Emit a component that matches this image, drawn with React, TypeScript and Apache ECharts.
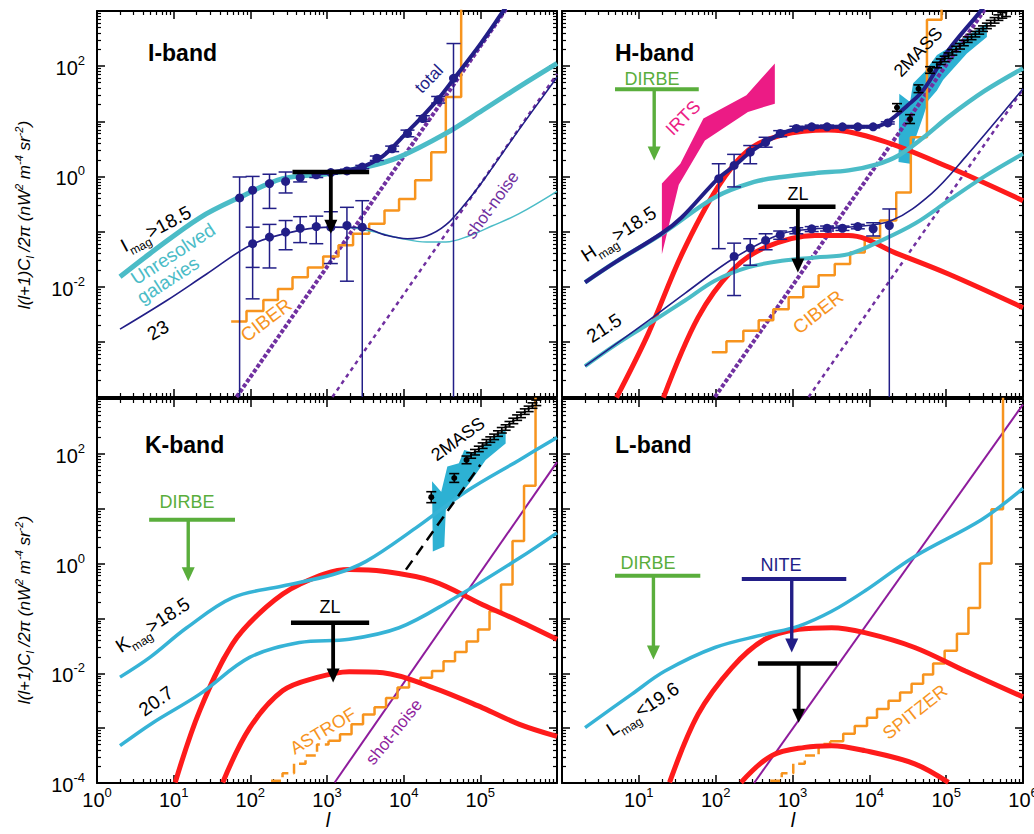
import React, { useEffect, useRef } from "react";
import * as echarts from "echarts";

const FONT = "'Liberation Sans', Arial, Helvetica, sans-serif";

const NAVY = "#221e87";
const CYAN_IH = "#4bbcc7";
const CYAN_KL = "#36b3d6";
const RED = "#fe1b1b";
const PURPLE_D = "#7030a0";
const PURPLE_S = "#8e1c9c";
const ORANGE = "#f7941e";
const GREEN = "#5aae3c";
const PINK = "#ec1b85";
const TMASS = "#2db1d3";

// All values below are [log10(l), log10(value)]
// ---------------- I-band ----------------
const iGalBright = [[0.3,-1.82],[0.69,-1.4],[1.34,-0.75],[1.86,-0.38],[2.42,-0.04],[3.01,0.05],[3.51,0.17],[3.94,0.35],[4.55,0.78],[5.03,1.2],[5.5,1.62],[6.0,2.05]];
const iTotalBright = [[2.8,0.03],[3.05,0.08],[3.3,0.12],[3.51,0.2],[3.7,0.34],[3.85,0.52],[4.03,0.78],[4.24,1.08],[4.46,1.42],[4.66,1.78],[5.0,2.4],[5.3,3.0],[5.45,3.3]];
const iTotalFaint = [[0.3,-2.77],[0.91,-2.25],[1.43,-1.77],[2.04,-1.22],[2.64,-0.98],[3.07,-0.92],[3.47,-0.93],[3.75,-1.06],[4.05,-1.13],[4.3,-1.08],[4.55,-0.88],[4.8,-0.5],[5.05,-0.05],[5.5,0.84],[6.0,1.8]];
const iGalFaint = [[3.3,-0.92],[3.6,-1.0],[3.95,-1.12],[4.3,-1.19],[4.55,-1.19],[4.85,-1.08],[5.15,-0.9],[5.5,-0.68],[6.0,-0.27]];
const iShotBright = [[1.82,-4.0],[5.5,3.36]];
const iShotFaint = [[3.07,-4.0],[6.0,1.86]];
const iCiber = [[1.75,-2.63],[1.95,-2.44],[2.17,-2.24],[2.36,-2.04],[2.55,-1.83],[2.75,-1.65],[2.95,-1.45],[3.15,-1.25],[3.34,-1.04],[3.55,-0.86],[3.75,-0.62],[3.94,-0.41],[4.15,-0.07],[4.36,0.44],[4.55,1.44],[4.75,4]];
// [log l, log v, log low, log high]
const iUpper = [[1.86,-0.39,-4,-0.01],[2.03,-0.25,-1.65,0.0],[2.25,-0.13,-0.58,0.04],[2.46,-0.09,-0.3,0.08],[2.65,-0.02,-0.1,0.06],[2.86,0.03,-0.02,0.08],[3.05,0.07,0.04,0.1],[3.26,0.1,0.07,0.13],[3.46,0.17,0.14,0.2],[3.65,0.33,0.29,0.37],[3.85,0.5,0.45,0.55],[4.05,0.78,0.72,0.84],[4.25,1.05,1.0,1.1],[4.45,1.39,1.33,1.45],[4.65,1.78,-4,2.41]];
const iLower = [[2.03,-1.22,-2.22,-0.92],[2.25,-1.1,-1.66,-0.87],[2.46,-1.01,-1.33,-0.8],[2.65,-0.94,-1.2,-0.73],[2.86,-0.91,-1.22,-0.72],[3.05,-0.92,-1.58,-0.64],[3.26,-0.89,-1.9,-0.56],[3.46,-0.92,-4,-0.44]];
const iZLBar = [[2.55,0.08],[3.55,0.08]];
const iZLArrow = [[3.05,0.08],[3.05,-1.04]];

// ---------------- H-band ----------------
const hGalBright = [[0.3,-1.92],[0.7,-1.55],[1.3,-1.04],[1.99,-0.38],[2.5,-0.1],[2.86,-0.01],[3.3,0.06],[3.73,0.11],[4.1,0.22],[4.38,0.38],[4.7,0.7],[5.03,1.08],[5.5,1.55],[6.0,1.96]];
const hGalFaint = [[0.3,-3.44],[0.7,-3.05],[1.12,-2.68],[1.6,-2.25],[1.99,-1.89],[2.42,-1.65],[2.86,-1.53],[3.3,-1.47],[3.73,-1.41],[4.16,-1.16],[4.6,-0.85],[5.03,-0.44],[5.5,0.0],[6.0,0.41]];
const hTotBright = [[0.3,-1.92],[0.7,-1.55],[1.3,-1.03],[1.56,-0.74],[2.03,-0.04],[2.25,0.2],[2.45,0.44],[2.65,0.62],[2.86,0.78],[3.08,0.87],[3.29,0.9],[3.73,0.9],[4.05,0.9],[4.24,0.99],[4.5,1.29],[4.7,1.56],[5.03,2.29],[5.46,3.02],[5.6,3.3]];
const hTotFaint = [[0.3,-3.44],[1.12,-2.62],[1.6,-2.12],[2.25,-1.47],[2.86,-1.04],[3.3,-0.95],[3.73,-0.92],[4.29,-0.8],[4.81,-0.31],[5.25,0.35],[6.0,1.59]];
const hRedBright = [[0.71,-4.01],[1.12,-2.86],[1.56,-1.41],[2.03,-0.19],[2.42,0.47],[2.86,0.75],[3.47,0.84],[4.16,0.65],[5.03,0.17],[6.0,-0.44]];
const hRedFaint = [[1.32,-4.01],[1.77,-2.56],[2.21,-1.71],[2.64,-1.29],[3.29,-1.07],[3.73,-1.07],[4.38,-1.41],[5.03,-1.77],[6.0,-2.38]];
const hShotBright = [[1.99,-4.0],[5.55,3.12]];
const hShotFaint = [[3.21,-4.0],[6.0,1.58]];
const hCiber = [[1.95,-3.19],[2.14,-2.99],[2.36,-2.8],[2.56,-2.61],[2.75,-2.41],[2.95,-2.19],[3.14,-2.0],[3.34,-1.79],[3.55,-1.59],[3.75,-1.38],[3.94,-1.11],[4.14,-0.8],[4.35,-0.29],[4.54,0.71],[4.75,2.84],[4.94,4]];
const hUpper = [[2.04,-0.04,-1.31,0.23],[2.24,0.2,-0.19,0.4],[2.45,0.44,0.23,0.56],[2.65,0.62,0.53,0.71],[2.84,0.78,0.72,0.83],[3.05,0.87,0.83,0.91],[3.25,0.9,0.87,0.93],[3.45,0.9,0.87,0.93],[3.65,0.9,0.88,0.92],[3.85,0.9,0.88,0.92],[4.05,0.9,0.88,0.92],[4.24,0.97,0.95,0.99]];
const hLower = [[2.24,-1.45,-2.16,-1.21],[2.45,-1.3,-1.61,-1.13],[2.65,-1.16,-1.33,-1.04],[2.84,-1.06,-1.14,-0.99],[3.05,-0.98,-1.04,-0.93],[3.25,-0.95,-1.0,-0.91],[3.45,-0.94,-0.99,-0.9],[3.65,-0.94,-0.98,-0.9],[3.85,-0.91,-0.95,-0.87],[4.05,-0.95,-1.08,-0.84],[4.26,-0.89,-4,-0.59]];
const hIrts = [[1.30,-0.13],[1.54,0.23],[1.84,1.05],[2.40,1.47],[2.77,2.05],[2.77,1.32],[2.42,1.17],[1.86,0.65],[1.52,-0.15],[1.30,-1.41]];
const h2massBand = [[4.38,0.26],[4.39,1.5],[4.53,1.35],[4.57,1.69],[4.72,1.9],[4.88,2.2],[5.09,2.38],[5.35,2.62],[5.53,2.78],[5.53,2.53],[5.27,2.23],[4.96,1.75],[4.88,1.56],[4.77,1.38],[4.70,1.08],[4.59,0.65],[4.53,0.23]];
const h2massPts = [[4.36,1.25,1.18,1.32],[4.53,1.04,0.96,1.12],[4.64,1.59,1.52,1.66],[4.79,1.93,1.87,1.99],[4.88,2.02,1.97,2.07],[4.93,2.08,2.03,2.13],[4.98,2.13,2.08,2.18],[5.03,2.19,2.14,2.24],[5.08,2.25,2.2,2.3],[5.13,2.31,2.26,2.36],[5.18,2.36,2.31,2.41],[5.23,2.42,2.37,2.47],[5.28,2.48,2.43,2.53],[5.33,2.53,2.48,2.58],[5.38,2.58,2.53,2.63],[5.43,2.63,2.58,2.68],[5.48,2.68,2.63,2.73],[5.53,2.73,2.68,2.78],[5.58,2.78,2.73,2.83],[5.63,2.83,2.78,2.88],[5.68,2.88,2.83,2.93],[5.73,2.92,2.87,2.97],[5.78,2.95,2.9,3.0]];
const hDirbeBar = [[0.69,1.58],[1.78,1.58]];
const hDirbeArrow = [[1.2,1.58],[1.2,0.29]];
const hZLBar = [[2.55,-0.55],[3.56,-0.55]];
const hZLArrow = [[3.07,-0.55],[3.07,-1.74]];

// ---------------- K-band ----------------
const kGalBright = [[0.3,-2.07],[0.69,-1.71],[1.17,-1.17],[1.77,-0.62],[2.42,-0.41],[3.08,-0.2],[3.51,0.04],[4.16,0.65],[4.81,1.31],[5.51,1.89],[6.0,2.3]];
const kGalFaint = [[0.3,-3.32],[0.73,-2.9],[1.34,-2.38],[1.99,-1.71],[2.64,-1.44],[3.29,-1.38],[3.94,-1.17],[4.59,-0.69],[5.51,0.1],[6.0,0.56]];
const kRedBright = [[1.02,-3.99],[1.34,-2.68],[1.77,-1.46],[2.21,-0.79],[2.64,-0.38],[3.29,-0.11],[3.73,-0.14],[4.38,-0.32],[5.03,-0.75],[5.51,-1.05],[6.0,-1.38]];
const kRedFaint = [[1.64,-3.99],[1.99,-3.0],[2.42,-2.32],[2.86,-2.08],[3.29,-1.97],[3.73,-1.99],[4.38,-2.26],[5.03,-2.63],[5.51,-2.93],[6.0,-3.15]];
const kShot = [[3.1,-3.99],[6.0,1.85]];
const kDashed = [[4.03,-0.11],[5.0,1.8]];
const kAstrofDashed = [[2.27,-3.96],[2.42,-3.82],[2.57,-3.65],[2.72,-3.5],[2.87,-3.3],[3.02,-3.23]];
const kAstrof = [[3.02,-3.23],[3.17,-3.11],[3.32,-2.93],[3.47,-2.75],[3.62,-2.62],[3.77,-2.45],[3.92,-2.26],[4.07,-2.14],[4.22,-2.08],[4.37,-1.96],[4.52,-1.78],[4.67,-1.61],[4.82,-1.42],[4.97,-1.2],[5.12,-0.87],[5.27,-0.38],[5.42,0.41],[5.57,1.42],[5.72,4]];
const k2massBand = [[4.37,1.5],[4.49,1.31],[4.57,1.77],[4.72,1.83],[4.79,2.07],[4.94,2.01],[5.11,2.25],[5.33,2.44],[5.33,2.19],[5.07,1.89],[4.86,1.47],[4.68,1.16],[4.55,0.98],[4.53,0.31],[4.38,0.22]];
const k2massPts = [[4.36,1.21,1.11,1.31],[4.66,1.56,1.48,1.64],[4.82,1.89,1.82,1.96],[4.88,1.97,1.92,2.02],[4.93,2.03,1.98,2.08],[4.98,2.09,2.04,2.14],[5.03,2.15,2.1,2.2],[5.08,2.21,2.16,2.26],[5.13,2.26,2.21,2.31],[5.18,2.31,2.26,2.36],[5.23,2.37,2.32,2.42],[5.28,2.43,2.38,2.48],[5.33,2.48,2.43,2.53],[5.38,2.54,2.49,2.59],[5.43,2.6,2.55,2.65],[5.48,2.66,2.61,2.71],[5.53,2.71,2.66,2.76],[5.58,2.77,2.72,2.82],[5.63,2.82,2.77,2.87],[5.68,2.88,2.83,2.93],[5.73,2.93,2.88,2.98]];
const kDirbeBar = [[0.68,0.8],[1.8,0.8]];
const kDirbeArrow = [[1.19,0.8],[1.19,-0.32]];
const kZLBar = [[2.53,-1.08],[3.55,-1.08]];
const kZLArrow = [[3.08,-1.08],[3.08,-2.17]];

// ---------------- L-band ----------------
const lGal = [[0.3,-2.99],[0.91,-2.38],[1.34,-1.96],[1.99,-1.53],[2.64,-1.29],[3.08,-1.14],[3.51,-0.87],[3.94,-0.5],[4.59,0.13],[5.46,0.8],[6.0,1.37]];
const lRedBright = [[1.4,-3.99],[1.77,-2.75],[2.21,-1.9],[2.64,-1.38],[3.08,-1.2],[3.51,-1.17],[3.94,-1.26],[4.59,-1.53],[5.25,-1.96],[6.0,-2.43]];
const lRedFaint = [[2.33,-3.99],[2.73,-3.5],[3.16,-3.35],[3.51,-3.32],[3.94,-3.41],[4.59,-3.65],[5.03,-3.99]];
const lShot = [[2.5,-4.0],[6.0,2.9]];
const lSpitzerDashed = [[2.71,-3.96],[2.86,-3.82],[3.01,-3.65],[3.16,-3.5],[3.34,-3.29],[3.49,-3.24]];
const lSpitzer = [[3.49,-3.24],[3.66,-3.1],[3.81,-2.96],[3.97,-2.81],[4.10,-2.65],[4.25,-2.5],[4.40,-2.35],[4.55,-2.19],[4.70,-2.02],[4.83,-1.82],[4.98,-1.59],[5.14,-1.28],[5.29,-0.81],[5.44,0.0],[5.59,0.99],[5.74,4]];
const lDirbeBar = [[0.69,-0.22],[1.8,-0.22]];
const lDirbeArrow = [[1.19,-0.22],[1.19,-1.75]];
const lNiteBar = [[2.34,-0.28],[3.7,-0.28]];
const lNiteArrow = [[2.99,-0.28],[2.99,-1.62]];
const lZLBar = [[2.55,-1.82],[3.58,-1.82]];
const lZLArrow = [[3.08,-1.82],[3.08,-2.9]];

const toReal = (pts: number[][]) => pts.map((p) => p.map((v) => Math.pow(10, v)));

const GRIDS = [
  { left: 97, top: 11, width: 460, height: 386 },
  { left: 562, top: 11, width: 461, height: 386 },
  { left: 97, top: 399, width: 460, height: 384 },
  { left: 562, top: 399, width: 461, height: 384 },
];

const AXIS_RICH = {
  b: { fontSize: 20, fontFamily: FONT, color: "#000", lineHeight: 24, verticalAlign: "bottom" },
  s: { fontSize: 13, fontFamily: FONT, color: "#000", lineHeight: 14, verticalAlign: "top" },
};

function axisCommon() {
  return {
    axisLine: { show: true, onZero: false, lineStyle: { color: "#000", width: 2 } },
    axisTick: { show: true, inside: true, length: 8, lineStyle: { color: "#000", width: 1.5 } },
    minorTick: { show: true, splitNumber: 9, length: 4, lineStyle: { color: "#000", width: 1.2 } },
    splitLine: { show: false },
    minorSplitLine: { show: false },
  };
}

function makeX(g: number, position: string, show: boolean) {
  return {
    type: "log", logBase: 10, gridIndex: g, position, min: 1, max: 1e6, splitNumber: 6,
    ...axisCommon(),
    axisLabel: {
      show, margin: 3, showMinLabel: true, showMaxLabel: true, hideOverlap: false,
      formatter: (v: number) => {
        const e = Math.round(Math.log10(v));
        if (g === 2 && e > 5) return "";
        if (g === 3 && e < 1) return "";
        return "{b|10}{s|" + e + "}";
      },
      rich: AXIS_RICH,
    },
  };
}

function makeY(g: number, position: string, show: boolean) {
  return {
    type: "log", logBase: 10, gridIndex: g, position, min: 1e-4, max: 1e3, splitNumber: 7,
    ...axisCommon(),
    axisLabel: {
      show, margin: 12, showMinLabel: true, showMaxLabel: true, hideOverlap: false,
      formatter: (v: number) => {
        const e = Math.round(Math.log10(v));
        if (e % 2 !== 0) return "";
        if (g === 0 && e === -4) return "";
        return "{b|10}{s|" + e + "}";
      },
      rich: AXIS_RICH,
    },
  };
}

function buildOption() {
  const series: any[] = [];
  const addLine = (g: number, pts: number[][], color: string, width: number, extra: any = {}) => {
    series.push({
      type: "line", xAxisIndex: g, yAxisIndex: g, data: toReal(pts), symbol: "none", showSymbol: false,
      lineStyle: { color, width, type: extra.dash || "solid" },
      smooth: extra.smooth || false, step: extra.step || false, silent: true, z: extra.z ?? 2, clip: true,
    });
  };
  const addErr = (g: number, rows: number[][], color: string, capHalf: number, lw: number, z: number) => {
    series.push({
      type: "custom", xAxisIndex: g, yAxisIndex: g, data: toReal(rows), encode: { x: 0, y: 1 }, z, silent: true,
      renderItem: (_p: any, api: any) => {
        const x = api.value(0), lo = api.value(2), hi = api.value(3);
        const a = api.coord([x, lo]);
        const b = api.coord([x, hi]);
        const st = { stroke: color, lineWidth: lw };
        const ch: any[] = [
          { type: "line", shape: { x1: a[0], y1: a[1], x2: b[0], y2: b[1] }, style: st },
          { type: "line", shape: { x1: b[0] - capHalf, y1: b[1], x2: b[0] + capHalf, y2: b[1] }, style: st },
        ];
        if (lo > 1.001e-4) ch.push({ type: "line", shape: { x1: a[0] - capHalf, y1: a[1], x2: a[0] + capHalf, y2: a[1] }, style: st });
        return { type: "group", children: ch };
      },
    });
  };
  const addPoly = (g: number, verts: number[][], color: string, z: number) => {
    const real = toReal(verts);
    series.push({
      type: "custom", xAxisIndex: g, yAxisIndex: g, data: [real[0]], encode: { x: 0, y: 1 }, z, silent: true,
      renderItem: (_p: any, api: any) => ({
        type: "polygon", shape: { points: real.map((v) => api.coord(v)) }, style: { fill: color },
      }),
    });
  };
  const addDots = (g: number, rows: number[][], color: string, size: number, z = 6) => {
    series.push({
      type: "scatter", xAxisIndex: g, yAxisIndex: g, data: toReal(rows.map((r) => [r[0], r[1]])),
      symbol: "circle", symbolSize: size, itemStyle: { color, opacity: 1 }, z, silent: true,
    });
  };
  const addLimit = (g: number, bar: number[][], arrow: number[][], color: string, lw: number, head: number[]) => {
    addLine(g, bar, color, lw, { z: 7 });
    const top = arrow[0], tip = arrow[1];
    const shaftEnd = [tip[0], tip[1] + (head[1] * 0.7) / 55];
    addLine(g, [top, shaftEnd], color, lw * 0.85, { z: 7 });
    series.push({
      type: "scatter", xAxisIndex: g, yAxisIndex: g, data: toReal([tip]), symbol: "triangle",
      symbolSize: head, symbolRotate: 180, symbolOffset: [0, -head[1] / 2], itemStyle: { color, opacity: 1 }, z: 7, silent: true,
    });
  };

  const SM = 0.35;
  // ---- I-band (grid 0)
  addLine(0, iShotBright, PURPLE_D, 4, { dash: [4, 2], z: 2 });
  addLine(0, iShotFaint, PURPLE_D, 2.5, { dash: [4, 4], z: 2 });
  addLine(0, iCiber, ORANGE, 2.5, { step: "end", z: 2 });
  addLine(0, iGalFaint, CYAN_IH, 1.5, { smooth: SM, z: 3 });
  addLine(0, iTotalFaint, NAVY, 1.6, { smooth: SM, z: 4 });
  addLine(0, iGalBright, CYAN_IH, 5, { smooth: SM, z: 3 });
  addLine(0, iTotalBright, NAVY, 4, { smooth: SM, z: 4 });
  addErr(0, iUpper, NAVY, 7, 1.5, 5);
  addErr(0, iLower, NAVY, 7, 1.5, 5);
  addDots(0, iUpper, NAVY, 9);
  addDots(0, iLower, NAVY, 9);
  addLimit(0, iZLBar, iZLArrow, "#000", 4.5, [13, 14]);

  // ---- H-band (grid 1)
  addPoly(1, h2massBand, TMASS, 1);
  addPoly(1, hIrts, PINK, 1);
  addLine(1, hShotBright, PURPLE_D, 4, { dash: [4, 2], z: 2 });
  addLine(1, hShotFaint, PURPLE_D, 2.5, { dash: [4, 4], z: 2 });
  addLine(1, hCiber, ORANGE, 2.5, { step: "end", z: 2 });
  addLine(1, hRedBright, RED, 5, { smooth: SM, z: 3 });
  addLine(1, hRedFaint, RED, 5, { smooth: SM, z: 3 });
  addLine(1, hGalBright, CYAN_IH, 4.5, { smooth: SM, z: 3 });
  addLine(1, hGalFaint, CYAN_IH, 4, { smooth: SM, z: 3 });
  addLine(1, hTotFaint, NAVY, 1.6, { smooth: SM, z: 4 });
  addLine(1, hTotBright, NAVY, 4, { smooth: SM, z: 4 });
  addErr(1, hUpper, NAVY, 7, 1.5, 5);
  addErr(1, hLower, NAVY, 7, 1.5, 5);
  addDots(1, hUpper, NAVY, 9);
  addDots(1, hLower, NAVY, 9);
  addErr(1, h2massPts, "#000", 5, 1.6, 5);
  addDots(1, h2massPts.slice(0, 4), "#000", 6, 5);
  addLimit(1, hDirbeBar, hDirbeArrow, GREEN, 4, [13, 14]);
  addLimit(1, hZLBar, hZLArrow, "#000", 4.5, [13, 14]);

  // ---- K-band (grid 2)
  addPoly(2, k2massBand, TMASS, 1);
  addLine(2, kShot, PURPLE_S, 2, { z: 2 });
  addLine(2, kAstrofDashed, ORANGE, 2.5, { step: "end", dash: [10, 5], z: 2 });
  addLine(2, kAstrof, ORANGE, 2.5, { step: "end", z: 2 });
  addLine(2, kRedBright, RED, 5, { smooth: SM, z: 3 });
  addLine(2, kRedFaint, RED, 5, { smooth: SM, z: 3 });
  addLine(2, kGalBright, CYAN_KL, 3.5, { smooth: SM, z: 3 });
  addLine(2, kGalFaint, CYAN_KL, 3.5, { smooth: SM, z: 3 });
  addLine(2, kDashed, "#000", 2.5, { dash: [11, 7], z: 4 });
  addErr(2, k2massPts, "#000", 5, 1.6, 5);
  addDots(2, k2massPts.slice(0, 3), "#000", 6, 5);
  addLimit(2, kDirbeBar, kDirbeArrow, GREEN, 4, [13, 14]);
  addLimit(2, kZLBar, kZLArrow, "#000", 4.5, [13, 14]);

  // ---- L-band (grid 3)
  addLine(3, lShot, PURPLE_S, 2, { z: 2 });
  addLine(3, lSpitzerDashed, ORANGE, 2.5, { step: "end", dash: [10, 5], z: 2 });
  addLine(3, lSpitzer, ORANGE, 2.5, { step: "end", z: 2 });
  addLine(3, lRedBright, RED, 5, { smooth: SM, z: 3 });
  addLine(3, lRedFaint, RED, 5, { smooth: SM, z: 3 });
  addLine(3, lGal, CYAN_KL, 3.5, { smooth: SM, z: 3 });
  addLimit(3, lDirbeBar, lDirbeArrow, GREEN, 4, [13, 14]);
  addLimit(3, lNiteBar, lNiteArrow, NAVY, 4, [13, 14]);
  addLimit(3, lZLBar, lZLArrow, "#000", 4.5, [13, 14]);

  // ---- texts
  const richFor = (color: string, size: number) => ({
    n: { fontSize: size, fontFamily: FONT, fill: color, lineHeight: size + 5, verticalAlign: "top" },
    s: { fontSize: Math.round(size * 0.62), fontFamily: FONT, fill: color, lineHeight: 9, verticalAlign: "bottom" },
  });
  const T = (x: number, y: number, text: string, o: any = {}) => {
    const color = o.color || "#000";
    const size = o.size || 18;
    const align = o.align || "center";
    return {
      type: "text", x, y, rotation: ((o.rot || 0) * Math.PI) / 180, z: 100, silent: true,
      style: {
        text, fill: color, fontSize: size, fontFamily: FONT, fontWeight: o.bold ? "bold" : "normal",
        fontStyle: o.italic ? "italic" : "normal",
        align, verticalAlign: "middle", textAlign: align, textVerticalAlign: "middle",
        rich: o.rich || richFor(color, size),
      },
    };
  };
  const yTitleRich = {
    i: { fontSize: 17, fontStyle: "italic", fontFamily: FONT, fill: "#000", lineHeight: 22, verticalAlign: "middle" },
    sup: { fontSize: 11, fontStyle: "italic", fontFamily: FONT, fill: "#000", lineHeight: 11, verticalAlign: "top" },
    sub: { fontSize: 11, fontStyle: "italic", fontFamily: FONT, fill: "#000", lineHeight: 8, verticalAlign: "bottom" },
  };
  const yTitle = "{i|l(l+1)C}{sub|l}{i| /2π (nW}{sup|2}{i| m}{sup|-4}{i| sr}{sup|-2}{i|)}";

  const graphic = [
    T(24, 215, yTitle, { rot: 90, rich: yTitleRich }),
    T(24, 610, yTitle, { rot: 90, rich: yTitleRich }),
    T(328, 820, "l", { size: 20, italic: true }),
    T(793, 820, "l", { size: 20, italic: true }),
    // I-band
    T(148, 53, "I-band", { bold: true, size: 23, align: "left" }),
    T(429, 79, "total", { color: NAVY, size: 17, rot: 46 }),
    T(492, 205, "shot-noise", { color: PURPLE_D, size: 17, rot: 54 }),
    T(157, 231, "{n|I}{s|mag}{n|>18.5}", { size: 19, rot: 28 }),
    T(173, 254, "Unresolved", { color: CYAN_IH, size: 19, rot: 33 }),
    T(168, 280, "galaxies", { color: CYAN_IH, size: 19, rot: 33 }),
    T(158, 330, "23", { size: 19, rot: 30 }),
    T(266, 320, "CIBER", { color: ORANGE, size: 19, rot: 37 }),
    // H-band
    T(615, 53, "H-band", { bold: true, size: 23, align: "left" }),
    T(652, 79, "DIRBE", { color: GREEN, size: 18 }),
    T(683, 118, "IRTS", { color: PINK, size: 18, rot: 45 }),
    T(918, 52, "2MASS", { size: 18, rot: 46 }),
    T(620, 236, "{n|H}{s|mag}{n|>18.5}", { size: 19, rot: 33 }),
    T(604, 328, "21.5", { size: 19, rot: 33 }),
    T(798, 194, "ZL", { size: 18 }),
    T(818, 312, "CIBER", { color: ORANGE, size: 19, rot: 38 }),
    // K-band
    T(145, 445, "K-band", { bold: true, size: 23, align: "left" }),
    T(187, 502, "DIRBE", { color: GREEN, size: 18 }),
    T(458, 439, "2MASS", { size: 18, rot: 36 }),
    T(154, 627, "{n|K}{s|mag}{n|>18.5}", { size: 19, rot: 33 }),
    T(156, 701, "20.7", { size: 19, rot: 35 }),
    T(330, 607, "ZL", { size: 18 }),
    T(323, 731, "ASTROF", { color: ORANGE, size: 18, rot: 31 }),
    T(394, 732, "shot-noise", { color: PURPLE_S, size: 17, rot: 51 }),
    // L-band
    T(615, 445, "L-band", { bold: true, size: 23, align: "left" }),
    T(648, 563, "DIRBE", { color: GREEN, size: 18 }),
    T(781, 565, "NITE", { color: NAVY, size: 18 }),
    T(644, 711, "{n|L}{s|mag}{n|<19.6}", { size: 19, rot: 33 }),
    T(915, 712, "SPITZER", { color: ORANGE, size: 18, rot: 38 }),
  ];

  const xAxis: any[] = [];
  const yAxis: any[] = [];
  for (let g = 0; g < 4; g++) xAxis.push(makeX(g, "bottom", g >= 2));
  for (let g = 0; g < 4; g++) xAxis.push(makeX(g, "top", false));
  for (let g = 0; g < 4; g++) yAxis.push(makeY(g, "left", g === 0 || g === 2));
  for (let g = 0; g < 4; g++) yAxis.push(makeY(g, "right", false));

  return {
    animation: false,
    backgroundColor: "#fff",
    textStyle: { fontFamily: FONT },
    grid: GRIDS.map((r) => ({ ...r, containLabel: false, outerBoundsMode: "none" })),
    xAxis,
    yAxis,
    series,
    graphic,
  };
}

export default function App() {
  const ref = useRef<HTMLDivElement>(null);
  useEffect(() => {
    if (!ref.current) return;
    const chart = echarts.init(ref.current, undefined, { renderer: "svg" });
    chart.setOption(buildOption() as any);
    return () => chart.dispose();
  }, []);
  return (
    <div
      ref={ref}
      style={{ position: "fixed", left: 0, top: 0, width: 1034, height: 834, background: "#fff" }}
    />
  );
}
